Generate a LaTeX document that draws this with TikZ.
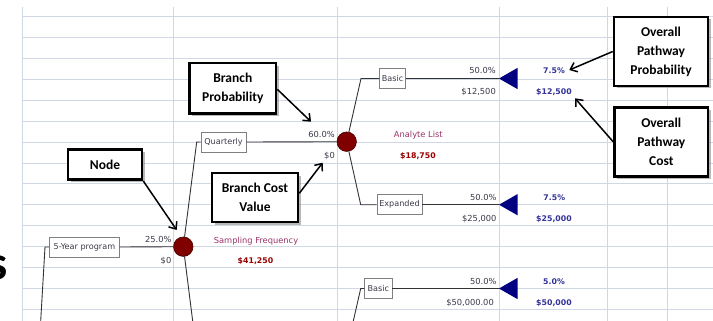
\documentclass[tikz,border=0pt]{standalone}
\usepackage{fontspec}
\setmainfont{DejaVu Sans}
\newfontfamily\callfont{Carlito}
\usetikzlibrary{arrows.meta,shadows}
\definecolor{gridc}{HTML}{D0D7E5}
\definecolor{nodered}{HTML}{800000}
\definecolor{navyt}{HTML}{000080}
\definecolor{labc}{HTML}{993366}
\definecolor{valc}{HTML}{990000}
\definecolor{pathc}{HTML}{333399}
\definecolor{smallc}{HTML}{3A3A4A}
\definecolor{treec}{HTML}{333333}
\begin{document}
\begin{tikzpicture}[x=1pt,y=-1pt,
  gridline/.style={draw=gridc, line width=0.9pt},
  small/.style={font=\fontsize{8.3}{9}\selectfont, text=smallc, inner sep=0pt, text height=6pt, text depth=0pt},
  nlabel/.style={small, text=labc},
  nvalue/.style={font=\bfseries\fontsize{7.8}{9}\selectfont, text=valc, inner sep=0pt, text height=6pt, text depth=0pt},
  pvalue/.style={font=\bfseries\fontsize{7.8}{9}\selectfont, text=pathc, inner sep=0pt, text height=6pt, text depth=0pt},
  circ/.style={circle, fill=nodered, draw=nodered!55!black, line width=0.6pt, minimum size=19.5pt, inner sep=0pt},
  bbox/.style={draw=gray, fill=white, line width=0.6pt, font=\fontsize{8.1}{9}\selectfont, text=smallc, inner xsep=1.5pt, inner ysep=0pt, minimum height=20pt, anchor=west},
  tree/.style={draw=treec, line width=0.9pt},
  tri/.style={fill=navyt},
  callout/.style={draw=black, line width=2.6pt, fill=white, align=center, inner sep=0pt,
    font=\callfont\bfseries\fontsize{13.5}{19}\selectfont,
    drop shadow={shadow xshift=2.5pt, shadow yshift=-2.5pt, fill=black!55, opacity=0.5}},
  callarrow/.style={draw=black, line width=1.5pt, -{Straight Barb[length=6pt,width=10pt]}}
]
\clip (0,0) rectangle (713,321);
\fill[white] (0,0) rectangle (713,321);

% grid
\foreach \gx in {22.7,173.3,337.3,499,607.5,667.7}
  \draw[gridline] (\gx,7) -- (\gx,321);
\foreach \k in {0,...,14}
  \draw[gridline] (22.7,16.7+20.9*\k) -- (713,16.7+20.9*\k);

% partial heading letter at the left edge
\node[anchor=east, inner sep=0pt, font=\callfont\bfseries\fontsize{48}{48}\selectfont] (sletter) at (7.5,268) {s};

% chance nodes
\node[circ] (n1) at (183.3,246.7) {};
\node[circ] (n2) at (346.7,141.7) {};

% branch boxes
\node[bbox, minimum width=69.7pt] (prog) at (49.3,247) {5-Year program};
\node[bbox, minimum width=45pt] (quart) at (200.7,142) {Quarterly};
\node[bbox, minimum width=26pt] (basic1) at (379.3,78.5) {Basic};
\node[bbox, minimum width=45pt] (exp) at (376.7,204.7) {Expanded};
\node[bbox, minimum width=27.4pt] (basic2) at (364.3,288.5) {Basic};

% terminal triangles
\coordinate (t1) at (499,78.5);
\coordinate (t2) at (499,204.7);
\coordinate (t3) at (499,288.5);
\foreach \t in {t1,t2,t3}
  \fill[tri] (\t) -- ++(18.7,-10.7) -- ++(0,21.4) -- cycle;

% corner coordinates of the tree
\coordinate (b0) at (40.7,321);
\coordinate (c0) at (45,247);
\coordinate (c1) at (196.7,142);
\coordinate (b1) at (192.7,321);
\coordinate (c2) at (361,78.5);
\coordinate (c3) at (360.7,204.7);
\coordinate (b2) at (353.3,321);
\coordinate (c4) at (360.7,288.5);

% tree connectors
\draw[tree] (b0) -- (c0) -- (prog.west);
\draw[tree] (prog.east) -- (n1);
\draw[tree] (n1) -- (c1) -- (quart.west);
\draw[tree] (n1) -- (b1);
\draw[tree] (quart.east) -- (n2);
\draw[tree] (n2) -- (c2) -- (basic1.west);
\draw[tree] (n2) -- (c3) -- (exp.west);
\draw[tree] (b2) -- (c4) -- (basic2.west);
\draw[tree] (basic1.east) -- (t1);
\draw[tree] (exp.east) -- (t2);
\draw[tree] (basic2.east) -- (t3);

% node 1 labels
\node[small, anchor=east] (p1) at (171.7,239.5) {25.0\%};
\node[small, anchor=east] (v1) at (171.5,260.5) {\$0};
\node[nlabel] (l1) at (256,240) {Sampling Frequency};
\node[nvalue] (e1) at (255.5,260.5) {\$41,250};

% node 2 labels
\node[small, anchor=east] (p2) at (335,134.5) {60.0\%};
\node[small, anchor=east] (v2) at (335,155) {\$0};
\node[nlabel] (l2) at (418.3,134.5) {Analyte List};
\node[nvalue] (e2) at (418,155.5) {\$18,750};

% terminal labels
\node[small, anchor=east] (p3) at (496,71) {50.0\%};
\node[small, anchor=east] (v3) at (496,92) {\$12,500};
\node[pvalue] (o3) at (554,71) {7.5\%};
\node[pvalue] (w3) at (554,92) {\$12,500};

\node[small, anchor=east] (p4) at (496.7,197.7) {50.0\%};
\node[small, anchor=east] (v4) at (496.7,218.3) {\$25,000};
\node[pvalue] (o4) at (554.3,197.7) {7.5\%};
\node[pvalue] (w4) at (554,218.3) {\$25,000};

\node[small, anchor=east] (p5) at (496.7,281.7) {50.0\%};
\node[small, anchor=east] (v5) at (494,302.7) {\$50,000.00};
\node[pvalue] (o5) at (554,281.7) {5.0\%};
\node[pvalue] (w5) at (554,302.7) {\$50,000};

% callouts
\node[callout, minimum width=86.4pt, minimum height=50.7pt] (bp) at (232.8,88.4) {Branch\\Probability};
\node[callout, minimum width=74pt, minimum height=30.1pt] (nd) at (105,164.7) {Node};
\node[callout, minimum width=86pt, minimum height=49pt] (bcv) at (255,197.5) {Branch Cost\\Value};
\node[callout, minimum width=94pt, minimum height=69pt] (opp) at (661,51.5) {Overall\\Pathway\\Probability};
\node[callout, minimum width=93.4pt, minimum height=69.1pt] (opc) at (661.3,141.9) {Overall\\Pathway\\Cost};

% arrow targets
\coordinate (a1) at (311,121.7);
\coordinate (a2) at (176.7,230);
\coordinate (a3) at (322.7,162.7);
\coordinate (a4) at (569.3,70);
\coordinate (a5) at (575,98.3);

\draw[callarrow] (bp.east |- 0,89.3) -- (a1);
\draw[callarrow] (nd.south east) -- (a2);
\draw[callarrow] (bcv.east |- 0,193.3) -- (a3);
\draw[callarrow] (opp.west) -- (a4);
\draw[callarrow] (opc.west) -- (a5);
\end{tikzpicture}
\end{document}
